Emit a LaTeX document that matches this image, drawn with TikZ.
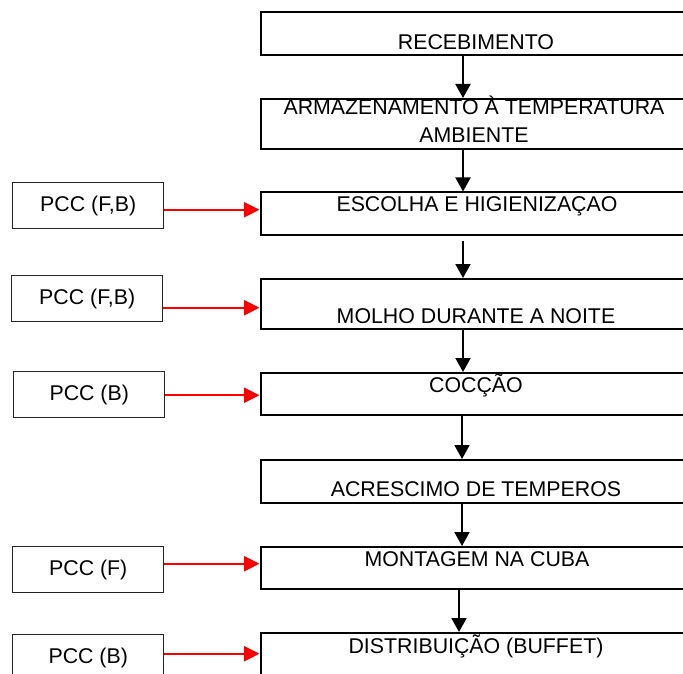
\documentclass[tikz,border=0pt]{standalone}
\usepackage{fontspec}
\setmainfont{Liberation Sans}
\usetikzlibrary{arrows.meta}
\begin{document}
\begin{tikzpicture}[x=0.75pt,y=-0.75pt,
  every node/.style={font=\fontsize{16}{21}\selectfont},
  stagebox/.style={draw=black,line width=1.5pt,rectangle,inner sep=0pt,
    minimum width=324.75pt,anchor=north west},
  pccbox/.style={draw=black!85,line width=1.1pt,rectangle,inner sep=0pt,
    minimum width=113.25pt,minimum height=34.5pt,anchor=north west},
  label/.style={anchor=base,inner sep=0pt,align=center},
  flow/.style={draw=black,line width=1.5pt,
    -{Triangle[length=10.5pt,width=11.25pt]}},
  pccflow/.style={draw=red,line width=1.5pt,
    -{Triangle[length=11.5pt,width=11.25pt]}}]
\useasboundingbox (0,0) rectangle (683,674);
\clip (0,0) rectangle (683,674);

% process stages
\node[stagebox,minimum height=32.25pt] (rec) at (259.5,11) {};
\node[stagebox,minimum height=37.5pt]  (arm) at (259.5,98) {};
\node[stagebox,minimum height=31.9pt]  (esc) at (259.5,191.5) {};
\node[stagebox,minimum height=37.5pt]  (mol) at (259.5,278) {};
\node[stagebox,minimum height=31.5pt]  (coc) at (259.5,372) {};
\node[stagebox,minimum height=32.25pt] (acr) at (259.5,459) {};
\node[stagebox,minimum height=31.5pt]  (mon) at (259.5,546) {};
\node[stagebox,minimum height=45pt]    (dis) at (259.5,632) {};

% stage captions (base anchor of the two-line caption is its last line)
\node[label] (trec) at (476,50)  {RECEBIMENTO};
\node[label] (tarm) at (474,143) {ARMAZENAMENTO À TEMPERATURA\\AMBIENTE};
\node[label] (tesc) at (477,212) {ESCOLHA E HIGIENIZAÇAO};
\node[label] (tmol) at (476,323) {MOLHO DURANTE A NOITE};
\node[label] (tcoc) at (476,392) {COCÇÃO};
\node[label] (tacr) at (476,496) {ACRESCIMO DE TEMPEROS};
\node[label] (tmon) at (477,566) {MONTAGEM NA CUBA};
\node[label] (tdis) at (476,653) {DISTRIBUIÇÃO (BUFFET)};

% critical control points
\node[pccbox] (p1) at (12,182) {PCC (F,B)};
\node[pccbox] (p2) at (11,275) {PCC (F,B)};
\node[pccbox] (p3) at (13,371) {PCC (B)};
\node[pccbox] (p4) at (12,546) {PCC (F)};
\node[pccbox] (p5) at (12,634) {PCC (B)};

% flow between stages
\coordinate (ax) at (463,0);
\coordinate (bx) at (462,0);
\coordinate (cx) at (459,0);
\draw[flow] (rec.south -| ax) -- (arm.north -| ax);
\draw[flow] (arm.south -| ax) -- (esc.north -| ax);
\draw[flow,shorten <=3.75pt] (esc.south -| ax) -- (mol.north -| ax);
\draw[flow] (mol.south -| ax) -- (coc.north -| ax);
\draw[flow] (coc.south -| bx) -- (acr.north -| bx);
\draw[flow] (acr.south -| bx) -- (mon.north -| bx);
\draw[flow] (mon.south -| cx) -- (dis.north -| cx);

% control point links
\path ([yshift=-3pt]p1.east) coordinate (r1);
\path ([yshift=-6.75pt]p2.east) coordinate (r2);
\path ([yshift=-0.4pt]p3.east) coordinate (r3);
\path ([yshift=4.5pt]p4.east) coordinate (r4);
\path ([yshift=3pt]p5.east) coordinate (r5);
\draw[pccflow] (r1) -- (r1 -| esc.west);
\draw[pccflow] (r2) -- (r2 -| mol.west);
\draw[pccflow] (r3) -- (r3 -| coc.west);
\draw[pccflow] (r4) -- (r4 -| mon.west);
\draw[pccflow] (r5) -- (r5 -| dis.west);
\end{tikzpicture}
\end{document}
